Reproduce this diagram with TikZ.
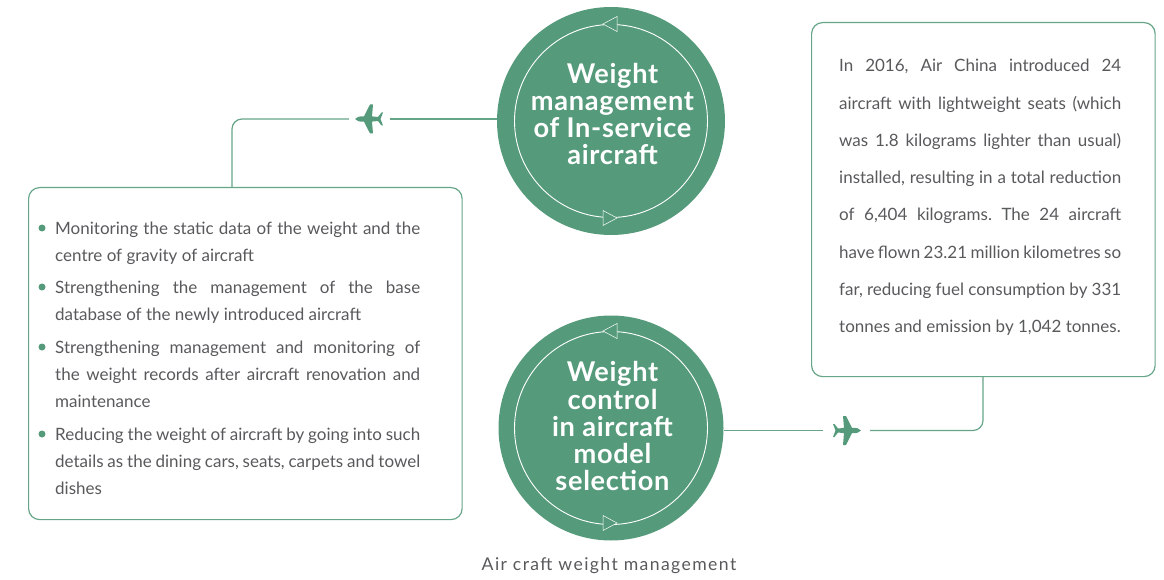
\documentclass[tikz,border=0pt]{standalone}
\usepackage{fontspec}
\setmainfont{Lato}
\newfontfamily\capfont[LetterSpace=8]{Lato}
\newfontfamily\headfont[LetterSpace=2.5]{Lato}
\usetikzlibrary{positioning}
\definecolor{leaf}{RGB}{85,155,123}
\definecolor{bodytext}{RGB}{88,89,91}
\frenchspacing

\begin{document}
\begin{tikzpicture}[x=1pt, y=-1pt,
    disc/.style={circle, fill=leaf, minimum size=228pt, inner sep=0pt},
    ring/.style={circle, draw=white, line width=0.9pt, minimum size=193pt, inner sep=0pt},
    headline/.style={text=white, align=center, inner sep=0pt, font=\headfont\bfseries\fontsize{27.2}{27}\selectfont},
    panel/.style={draw=leaf!90, line width=1.2pt, rounded corners=11pt, anchor=north west, inner sep=0pt},
    link/.style={draw=leaf!90, line width=1.2pt, rounded corners=10pt},
    airgap/.style={minimum width=41pt, minimum height=30pt, inner sep=0pt},
    item/.style={anchor=north west, inner sep=0pt, text width=365pt, align=justify, text=bodytext, font=\fontsize{17}{27}\selectfont},
    dot/.style={circle, fill=leaf, minimum size=7pt, inner sep=0pt},
    plane/.pic={
        \fill[leaf] (14.5,0) .. controls (12.5,-2.6) and (10,-2.6) .. (5.5,-2.6) -- (-0.5,-14.5) -- (-3.5,-14.5) -- (-2.5,-2.6)
            -- (-8.5,-2) -- (-12,-6.5) -- (-13.5,-6.5) -- (-11,0) -- (-13.5,6.5) -- (-12,6.5) -- (-8.5,2)
            -- (-2.5,2.6) -- (-3.5,14.5) -- (-0.5,14.5) -- (5.5,2.6) .. controls (10,2.6) and (12.5,2.6) .. (14.5,0) -- cycle;
    },
    marker/.pic={
        \draw[white, line width=0.5pt, fill=leaf] (-7,0) -- (7,-7.5) -- (7,7.5) -- cycle;
    }
]
\useasboundingbox (0,0) rectangle (1164,580);

% Upper circle
\node[disc] (service) at (611,121) {};
\node[ring] (servicering) at (611,121) {};
\pic at (610,24) {marker};
\pic[rotate=180] at (610,218) {marker};
\node[headline] (servicetext) at (612.5,114) {Weight\\management\\of In-service\\aircraft};

% Lower circle
\node[disc, minimum size=225pt] (model) at (611,428) {};
\node[ring] (modelring) at (611,428) {};
\pic at (610,331) {marker};
\pic[rotate=180] at (610,523) {marker};
\node[headline] (modeltext) at (612.5,426) {Weight\\control\\in aircraft\\model\\selection};

% Left box
\node[panel, minimum width=433.5pt, minimum height=332pt] (measures) at (28,187) {};
\node[dot] (dot1) at (42,228) {};
\node[item] (item1) at (55,222) {Monitoring the static data of the weight and the\linebreak centre of gravity of aircraft};
\node[dot] (dot2) at (42,287) {};
\node[item] (item2) at (55,281) {Strengthening the management of the base\linebreak database of the newly introduced aircraft};
\node[dot] (dot3) at (42,347) {};
\node[item] (item3) at (55,341) {Strengthening management and monitoring of\linebreak the weight records after aircraft renovation and\linebreak maintenance};
\node[dot] (dot4) at (42,434) {};
\node[item] (item4) at (55,428) {Reducing the weight of aircraft by going into such\linebreak details as the dining cars, seats, carpets and towel\linebreak dishes};

% Right box
\node[panel, minimum width=343.5pt, minimum height=354pt] (example) at (811,22) {};
\node[item, text width=282pt, font=\fontsize{17}{37.3}\selectfont] (exampletext) at (839,59) {In 2016, Air China introduced 24\linebreak aircraft with lightweight seats (which\linebreak was 1.8 kilograms lighter than usual)\linebreak installed, resulting in a total reduction\linebreak of 6,404 kilograms. The 24 aircraft\linebreak have flown 23.21 million kilometres so\linebreak far, reducing fuel consumption by 331\linebreak tonnes and emission by 1,042 tonnes.};

% Connectors
\node[airgap] (plane1) at (369.5,119) {};
\pic[rotate=180] at (plane1) {plane};
\coordinate (measurestop) at (232,187);
\draw[link] (service.west |- plane1) -- (plane1.east);
\draw[link] (plane1.west) -| (measurestop);
\node[airgap, minimum width=47pt] (plane2) at (846.5,430.5) {};
\pic at (plane2) {plane};
\coordinate (examplebot) at (983,376);
\draw[link] (model.east |- plane2) -- (plane2.west);
\draw[link] (plane2.east) -| (examplebot);

\node[text=bodytext, inner sep=0pt, font=\capfont\fontsize{17.6}{20}\selectfont] (caption) at (609,566) {Air craft weight management};
\end{tikzpicture}
\end{document}
